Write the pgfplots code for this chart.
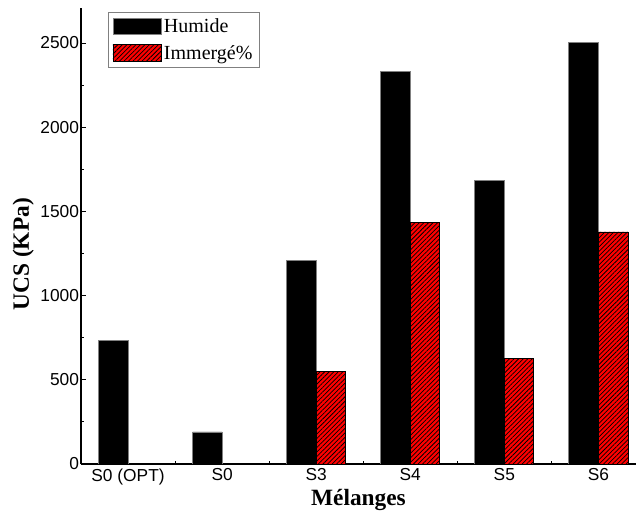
\documentclass[border=0pt]{standalone}
\usepackage{pgfplots}
\pgfplotsset{compat=1.18}
\usepackage{fontspec}
\setmainfont{Liberation Serif}
\newfontfamily\arialfont{Liberation Sans}
\usetikzlibrary{patterns.meta}
\begin{document}
\begin{tikzpicture}
\begin{axis}[
  width=416.25pt, height=342pt, scale only axis,
  xmin=-0.5, xmax=5.4, ymin=0, ymax=2708,
  axis lines*=left,
  axis line style={line width=0.9pt},
  ybar=0pt, bar width=0.314,
  xtick={0,...,5}, xticklabels={S0 (OPT),S0,S3,S4,S5,S6},
  major x tick style={draw=none},
  minor xtick={0.5,1.5,2.5,3.5,4.5},
  ytick={0,500,...,2500}, minor ytick={250,750,...,2250},
  tick align=inside,
  major tick length=4pt, minor tick length=2.5pt,
  tick style={black, line width=0.6pt},
  tick label style={font=\arialfont\fontsize{13}{15}\selectfont},
  /pgf/number format/assume math mode=true,
  /pgf/number format/set thousands separator={},
  yticklabel style={xshift=2pt},
  xticklabel style={yshift=0pt},
  xlabel={M\'elanges}, ylabel={UCS (KPa)},
  label style={font=\fontsize{17.5}{19}\selectfont\bfseries},
  every axis x label/.append style={at={(axis description cs:0.5,-0.079)}, anchor=center},
  every axis y label/.append style={at={(axis description cs:-0.104,0.46)}, anchor=center},
  legend style={at={(0.0486,0.991)}, anchor=north west, draw=gray, line width=0.8pt,
    font=\fontsize{15}{17}\selectfont, inner xsep=3pt, inner ysep=2.5pt, row sep=4pt,
    cells={anchor=west}},
  legend image code/.code={\draw[#1, line width=0.6pt] (0pt,-6pt) rectangle (36pt,6.5pt);},
]
\addplot[fill=black, draw=gray, line width=0.6pt] coordinates {
  (0,736) (1,190) (2,1211) (3,2330) (4,1686) (5,2506)};
\addlegendentry{Humide}
\addplot[fill=red, draw=black, line width=0.6pt,
  postaction={pattern={Lines[angle=45,distance=2.4pt,line width=0.55pt]}, pattern color=black}]
  coordinates {(2,552) (3,1432) (4,629) (5,1378)};
\addlegendentry{Immerg\'e\%}
\end{axis}
\pgfresetboundingbox
\path (current axis.south west) ++(-60.75pt,-42pt) rectangle ([shift={(0pt,6pt)}]current axis.north east);
\end{tikzpicture}
\end{document}
